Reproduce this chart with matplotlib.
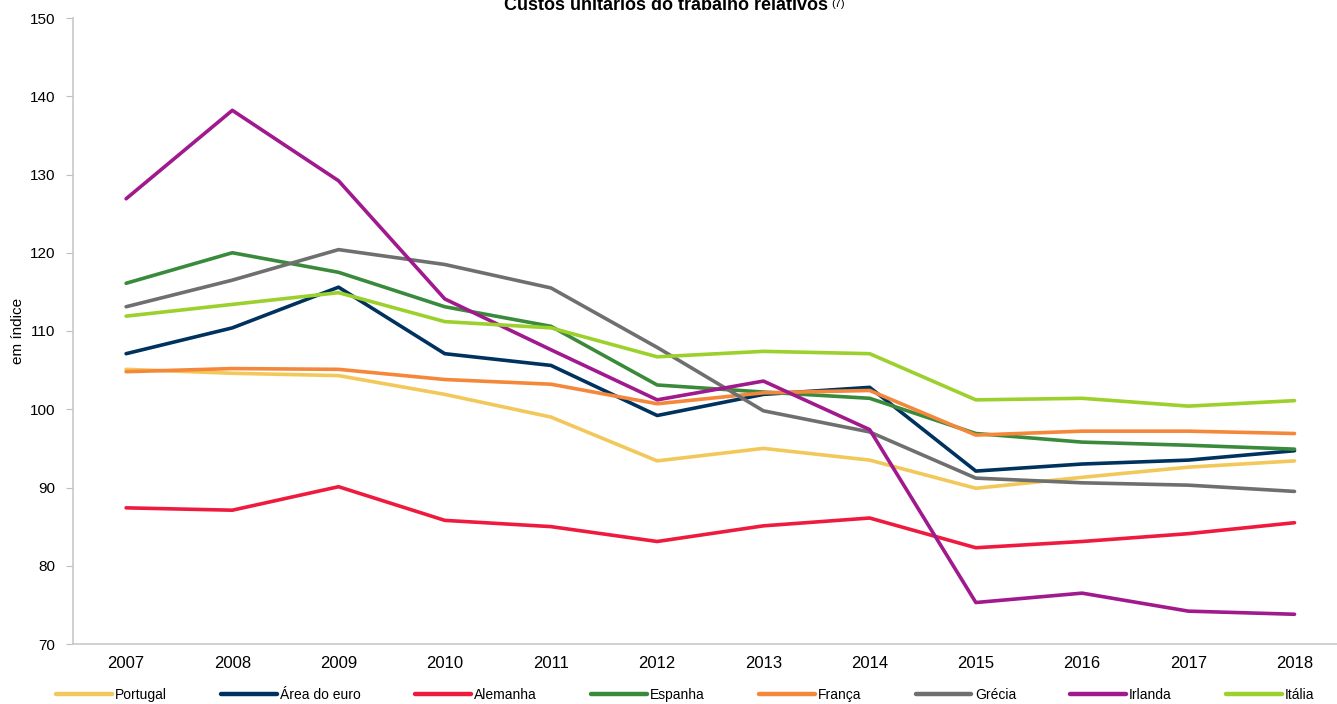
import matplotlib.pyplot as plt
import numpy as np

# data
years = ['2007', '2008', '2009', '2010', '2011', '2012', '2013', '2014', '2015', '2016', '2017', '2018']
portugal = [105.1, 104.6, 104.3, 101.9, 99.0, 93.4, 95.0, 93.5, 89.9, 91.3, 92.6, 93.4]
area_euro = [107.1, 110.4, 115.6, 107.1, 105.6, 99.2, 101.9, 102.8, 92.1, 93.0, 93.5, 94.7]
alemanha = [87.4, 87.1, 90.1, 85.8, 85.0, 83.1, 85.1, 86.1, 82.3, 83.1, 84.1, 85.5]
espanha = [116.1, 120.0, 117.5, 113.1, 110.6, 103.1, 102.2, 101.4, 96.9, 95.8, 95.4, 94.9]
franca = [104.8, 105.2, 105.1, 103.8, 103.2, 100.7, 102.1, 102.4, 96.7, 97.2, 97.2, 96.9]
grecia = [113.1, 116.5, 120.4, 118.5, 115.5, 107.9, 99.8, 97.1, 91.2, 90.6, 90.3, 89.5]
irlanda = [126.9, 138.2, 129.2, 114.1, 107.6, 101.2, 103.6, 97.4, 75.3, 76.5, 74.2, 73.8]
italia = [111.9, 113.4, 114.9, 111.2, 110.4, 106.7, 107.4, 107.1, 101.2, 101.4, 100.4, 101.1]

series = [
    ('Portugal', portugal, '#F2C85B'),
    ('Área do euro', area_euro, '#00325F'),
    ('Alemanha', alemanha, '#EE1B3E'),
    ('Espanha', espanha, '#3A8A3C'),
    ('França', franca, '#F5873A'),
    ('Grécia', grecia, '#6F6F6F'),
    ('Irlanda', irlanda, '#A0198D'),
    ('Itália', italia, '#9CD02C'),
]

plt.rcParams['font.family'] = ['Liberation Sans', 'DejaVu Sans']

fig = plt.figure(figsize=(13.37, 7.04), dpi=100)
ax = fig.add_axes([73 / 1337, 1 - 644 / 704, 1 - 73 / 1337, (644 - 18) / 704])

x = np.arange(len(years))
for name, vals, col in series:
    ax.plot(x, vals, color=col, lw=2.6, label=name, solid_capstyle='round')

ax.set_ylim(70, 150)
ax.set_yticks(np.arange(70, 151, 10))
ax.set_xlim(-0.5, 11.4)
ax.set_xticks(x)
ax.set_xticklabels(years, fontsize=12)
ax.tick_params(axis='x', length=0, pad=9)
ax.tick_params(axis='y', length=5, color='#BFBFBF', labelsize=11, pad=8)

for s in ['top', 'right']:
    ax.spines[s].set_visible(False)
for s in ['left', 'bottom']:
    ax.spines[s].set_color('#C8C8C8')
    ax.spines[s].set_linewidth(1.2)

fig.text(18 / 1337, 1 - 331 / 704, 'em índice', rotation=90, va='center', ha='center',
         fontsize=11)

fig.text(666 / 1337, 1 - 10 / 704, 'Custos unitários do trabalho relativos', ha='center',
         va='baseline', fontweight='bold', fontsize=13)
fig.text(831 / 1337, 1 - 7 / 704, '(7)', ha='left', va='baseline', fontsize=8)

leg = fig.legend(loc='center left', bbox_to_anchor=(56 / 1337, 1 - 695 / 704),
                 ncol=8, frameon=False, handlelength=4.0, handletextpad=0.25,
                 columnspacing=3.9, fontsize=10, borderaxespad=0, borderpad=0)
for line in leg.get_lines():
    line.set_linewidth(3.2)

fig.savefig('out.png', dpi=100)
